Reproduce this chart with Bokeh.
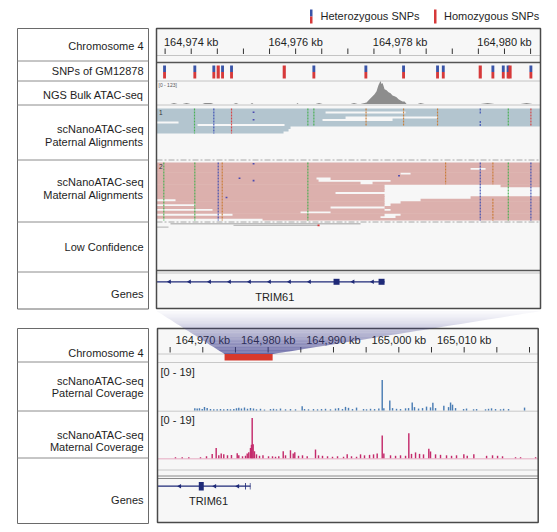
import math
from bokeh.plotting import figure
from bokeh.models import Range1d
from bokeh.core.properties import value
from bokeh.embed import file_html
from bokeh.resources import INLINE

# ---------------------------------------------------------------- data
TOP_START, TOP_END = 164973.335, 164980.690      # zoomed-in window (kb)
BOT_START, BOT_END = 164963.07, 165021.33        # zoomed-out window (kb)

top_ticks = [164973.5, 164974.0, 164974.5, 164975.0, 164975.5, 164976.0, 164976.5,
             164977.0, 164977.5, 164978.0, 164978.5, 164979.0, 164979.5, 164980.0, 164980.5]
top_label_pos = [164974.0, 164976.0, 164978.0, 164980.0]
top_labels = ["164,974 kb", "164,976 kb", "164,978 kb", "164,980 kb"]

bot_ticks = [164965, 164970, 164975, 164980, 164985, 164990, 164995, 165000,
             165005, 165010, 165015, 165020]
bot_label_pos = [164970, 164980, 164990, 165000, 165010]
bot_labels = ["164,970 kb", "164,980 kb", "164,990 kb", "165,000 kb", "165,010 kb"]

legend_labels = ["Heterozygous SNPs", "Homozygous SNPs"]

top_track_names = ["Chromosome 4", "SNPs of GM12878", "NGS Bulk ATAC-seq",
                   "scNanoATAC-seq", "Paternal Alignments",
                   "scNanoATAC-seq", "Maternal Alignments",
                   "Low Confidence", "Genes"]
bot_track_names = ["Chromosome 4", "scNanoATAC-seq", "Paternal Coverage",
                   "scNanoATAC-seq", "Maternal Coverage", "Genes"]

snp_pos = [164973.489, 164974.069, 164974.433, 164974.517, 164974.600, 164974.772,
           164975.782, 164976.349, 164977.345, 164978.067, 164978.718, 164978.828,
           164979.536, 164979.778, 164979.977, 164980.069, 164980.107, 164980.506]
snp_type = ["het", "het", "het", "hom", "het", "het",
            "hom", "het", "het", "het", "het", "het",
            "hom", "het", "het", "het", "hom", "het"]

bulk_range_label = "[0 - 123]"
bulk_pos = [164973.335, 164973.603, 164973.670, 164973.738, 164973.833, 164973.910, 164973.987,
            164974.216, 164974.260, 164974.380, 164974.427, 164974.810, 164974.858, 164974.906,
            164975.136, 164975.165, 164975.193, 164976.017, 164976.036, 164976.056,
            164976.381, 164976.448, 164976.515, 164977.052, 164977.119, 164977.186,
            164977.243, 164977.358, 164977.416, 164977.473, 164977.511, 164977.550,
            164977.569, 164977.588, 164977.607, 164977.626, 164977.645, 164977.664,
            164977.684, 164977.703, 164977.741, 164977.780, 164977.818, 164977.856,
            164977.895, 164977.933, 164977.971, 164978.010, 164978.048, 164978.086,
            164978.125, 164978.335, 164978.393, 164978.469, 164979.542, 164979.676,
            164979.810, 164980.308, 164980.423, 164980.538, 164980.690]
bulk_val = [0, 0, 5, 0, 0, 5, 0,
            0, 6, 6, 0, 0, 5, 0,
            0, 5, 0, 0, 5, 0,
            0, 6, 0, 0, 6, 0,
            0, 8, 25, 41, 52, 68,
            85, 101, 112, 123, 107, 112,
            96, 79, 74, 63, 57, 46,
            41, 36, 25, 19, 14, 14,
            0, 0, 5, 0, 0, 5,
            0, 0, 5, 0, 0]

L, R = TOP_START, TOP_END
pat_reads = [
    [(L, R)],
    [(L, 164976.573), (164978.105, R)],
    [(L, R)],
    [(L, 164976.956), (164978.718, R)],
    [(L, 164976.515), (164977.856, R)],
    [(164973.757, R)],
    [(L, 164974.121), (164975.787, R)],
    [(L, 164975.902)],
    [(L, 164975.864)],
    [(L, 164975.768)],
]
mat_reads = [
    [(L, R)],
    [(L, R)],
    [(L, 164979.351), (164979.638, R)],
    [(L, R)],
    [(L, 164978.010), (164978.201, R)],
    [(L, R)],
    [(L, 164976.400), (164976.669, R)],
    [(L, 164976.439), (164977.818, R)],
    [(L, 164977.243), (164977.473, R)],
    [(L, 164977.703), (164979.925, R)],
    [(L, 164977.703)],
    [(L, 164977.703)],
    [(L, 164976.764)],
    [(L, 164977.703)],
    [(L, 164977.703), (164979.351, R)],
    [(164973.699, 164977.703), (164978.393, R)],
    [(L, 164977.703), (164978.010, R)],
    [(164974.082, 164977.703), (164977.818, R)],
    [(L, 164976.669), (164977.703, R)],
    [(164974.408, 164977.703), (164977.818, R)],
    [(L, 164976.094), (164976.669, R)],
    [(164974.791, 164977.703), (164978.010, R)],
    [(L, 164977.626), (164977.913, R)],
    [(164975.366, R)],
]
lowconf_reads = [(164973.603, 164977.243, 0), (164974.810, 164976.439, 1), (L, 164973.565, 2)]

# mismatches: position (kb), first row, last row, base
pat_mm_pos = [164974.063, 164974.433, 164974.772, 164976.234, 164976.349, 164977.349,
              164978.067, 164978.718, 164979.536, 164979.536, 164980.073, 164980.506]
pat_mm_r0 = [0, 0, 0, 0, 0, 0, 0, 0, 0, 5, 0, 0]
pat_mm_r1 = [9, 9, 9, 6, 6, 6, 6, 6, 1, 6, 6, 6]
pat_mm_base = ["A", "C", "T", "A", "A", "G", "G", "G", "C", "C", "A", "T"]

mat_mm_pos = [164973.475, 164974.069, 164974.517, 164974.594, 164976.234, 164978.872,
              164979.536, 164979.778, 164979.778, 164980.073, 164980.506]
mat_mm_r0 = [0, 0, 0, 0, 0, 0, 0, 0, 15, 0, 0]
mat_mm_r1 = [23, 23, 23, 23, 23, 8, 23, 8, 23, 23, 23]
mat_mm_base = ["A", "A", "C", "G", "A", "G", "C", "G", "G", "A", "C"]

ins_pos = [164975.194, 164975.194, 164975.194, 164975.194, 164974.925, 164974.676, 164977.980]
ins_track = ["pat", "pat", "mat", "mat", "mat", "mat", "mat"]
ins_row = [1, 4, 0, 7, 6, 14, 5]

# genes
top_gene_span = (TOP_START, 164977.703)
top_gene_exons = [(164976.726, 164976.841), (164977.588, 164977.703)]
top_gene_chevrons = [164973.584, 164973.967, 164974.351, 164974.734, 164975.117,
                     164975.500, 164975.883, 164976.266, 164977.100, 164977.473]
top_gene_label_pos = 164975.60
bot_gene_span = (BOT_START, 164977.30)
bot_gene_exons = [(164969.39, 164970.15), (164976.47, 164976.60), (164977.20, 164977.30)]
bot_gene_chevrons = [164966.48, 164971.84, 164975.36]
bot_gene_label_pos = 164970.87
gene_name = "TRIM61"

cov_range_label = "[0 - 19]"
pat_cov_pos = [164968.78, 164969.14, 164969.49, 164969.91, 164970.26, 164970.67, 164971.18,
               164971.68, 164972.20, 164972.71, 164973.21, 164973.78, 164974.24, 164974.75,
               164975.16, 164975.51, 164975.92, 164976.38, 164976.84, 164977.30, 164977.76,
               164978.22, 164978.83, 164979.44, 164980.36, 164980.82, 164981.28, 164981.89,
               164982.66, 164983.42, 164984.19, 164985.21, 164985.57, 164986.18, 164986.94,
               164987.56, 164988.17, 164988.78, 164989.54, 164990.31, 164990.77, 164991.38,
               164991.84, 164992.30, 164992.91, 164993.53, 164994.60, 164995.06, 164995.67,
               164996.29, 164996.94, 164997.46, 164997.71, 164998.62, 164999.04, 164999.65,
               165000.26, 165001.03, 165001.49, 165002.05, 165002.40, 165003.02, 165003.63,
               165004.24, 165004.85, 165005.21, 165005.62, 165006.89, 165007.61, 165007.92,
               165008.22, 165008.68, 165009.91, 165010.36, 165011.44, 165011.90, 165013.27,
               165013.73, 165014.19, 165014.80, 165015.57, 165016.03, 165016.79, 165019.24]
pat_cov_val = [0.9, 0.8, 0.9, 0.6, 1.4, 1.0, 0.6,
               0.5, 0.5, 0.6, 0.5, 0.6, 0.5, 0.6,
               0.9, 1.1, 0.8, 1.2, 0.7, 1.0, 0.8,
               0.5, 0.7, 0.4, 0.6, 0.7, 0.5, 0.8,
               0.5, 0.6, 0.5, 1.8, 0.6, 0.5, 0.6,
               0.5, 0.6, 0.7, 0.5, 0.8, 1.0, 0.6,
               1.5, 1.1, 0.6, 1.2, 0.6, 0.5, 0.7,
               0.6, 0.8, 12.6, 0.9, 4.1, 1.0, 0.7,
               0.6, 0.9, 1.0, 3.3, 1.4, 0.8, 1.0,
               1.6, 1.3, 3.2, 1.0, 2.0, 1.4, 3.3,
               2.4, 1.0, 0.6, 0.8, 0.5, 0.6, 0.5,
               0.7, 0.9, 0.6, 0.5, 0.7, 0.6, 1.2]
mat_cov_pos = [164965.82, 164966.85, 164967.86, 164969.65, 164970.57, 164971.44, 164972.05,
               164972.45, 164972.82, 164973.21, 164973.78, 164974.39, 164975.27, 164975.51,
               164976.08, 164976.54, 164976.80, 164977.04, 164977.30, 164977.45, 164977.56,
               164977.71, 164977.91, 164978.22, 164978.68, 164979.21, 164980.06, 164980.67,
               164981.13, 164981.63, 164982.31, 164982.66, 164983.42, 164983.84, 164984.08,
               164984.65, 164985.26, 164985.98, 164987.25, 164987.71, 164988.32, 164989.09,
               164989.85, 164990.62, 164991.54, 164992.10, 164992.76, 164993.53, 164994.14,
               164994.75, 164995.52, 164996.13, 164996.69, 164997.46, 164997.71, 164998.73,
               164999.50, 165000.26, 165001.03, 165001.53, 165001.94, 165002.56, 165003.17,
               165003.78, 165004.59, 165004.85, 165005.62, 165006.38, 165007.30, 165008.07,
               165008.83, 165009.95, 165010.47, 165011.48, 165013.43, 165014.34, 165015.11,
               165015.87, 165017.86, 165018.63, 165020.93]
mat_cov_val = [0.4, 0.4, 0.4, 0.4, 0.8, 1.7, 4.2,
               1.2, 2.0, 1.6, 1.2, 1.3, 2.1, 1.2,
               0.8, 1.0, 2.0, 2.5, 4.2, 5.6, 16.7,
               5.8, 2.9, 1.6, 1.0, 1.2, 0.8, 0.8,
               0.6, 0.8, 2.9, 1.2, 3.3, 2.0, 2.5,
               1.0, 1.2, 0.8, 3.6, 1.2, 1.0, 0.8,
               0.6, 0.8, 0.6, 1.6, 0.8, 0.6, 1.6,
               1.2, 1.4, 1.6, 2.0, 9.4, 2.0, 1.2,
               1.0, 1.2, 1.0, 10.4, 1.8, 2.4, 1.8,
               1.6, 3.9, 2.8, 1.6, 1.4, 1.2, 1.0,
               1.2, 1.6, 1.0, 1.6, 1.0, 1.2, 1.0,
               0.8, 0.4, 0.4, 0.4]

# ---------------------------------------------------------------- styling / layout
FONT = value("Liberation Sans")
W, H = 549, 524
X0, Y0 = 0, 0
TXT = "#1e1e1e"
BASE_COL = {"A": "#3fae49", "C": "#3447b0", "G": "#c8782f", "T": "#d83a3a"}
HET_BLUE, SNP_RED = "#3a55a8", "#d6393a"
GENE_COL = "#1f2a78"

TX0, TX1, TY0, TY1 = 156, 540, 28, 308          # top data panel
BX0, BX1, BY0, BY1 = 157, 537.7, 328, 522        # bottom data panel

p = figure(width=W, height=H, x_range=Range1d(X0, X0 + W), y_range=Range1d(Y0 + H, Y0),
           output_backend="svg", toolbar_location=None, min_border=0,
           x_axis_location=None, y_axis_location=None)
p.grid.visible = False
p.outline_line_color = None
p.background_fill_color = "white"
p.border_fill_color = "white"


def x_kb_range(px0, px1, kb0, kb1):
    s = (kb1 - kb0) / (px1 - px0)
    return Range1d(kb0 - (px0 - X0) * s, kb1 + (X0 + W - px1) * s)


def y_val_range(base_px, top_px, vmax):
    s = vmax / (base_px - top_px)
    return Range1d((base_px - (Y0 + H)) * s, (base_px - Y0) * s)


p.extra_x_ranges = {"top": x_kb_range(TX0, TX1, TOP_START, TOP_END),
                    "bot": x_kb_range(BX0, BX1, BOT_START, BOT_END)}
p.extra_y_ranges = {"bulk": y_val_range(103.5, 80.5, 123),
                    "pcov": y_val_range(410, 364, 19),
                    "mcov": y_val_range(457.7, 412, 19)}

# ---- legend
p.quad(left=[309.5], right=[312], top=[9], bottom=[16], fill_color=HET_BLUE, line_color=None)
p.quad(left=[309.5, 433.5], right=[312, 436], top=[16, 9], bottom=[23, 23],
       fill_color=SNP_RED, line_color=None)
p.text(x=[320, 443.5], y=[15.5, 15.5], text=legend_labels, text_font=FONT,
       text_font_size="11px", text_color=TXT, text_align="left", text_baseline="middle")

# ---- left label boxes
p.quad(left=[17, 17], right=[148, 148], top=[28, 328], bottom=[308.5, 523],
       fill_color="white", line_color="#6a6a6a", line_width=1)
top_rows = [60.5, 80.5, 104.5, 159.5, 221.5, 271.5]
bot_rows = [361.5, 410.5, 457.5]
p.segment(x0=[17] * 9, x1=[148] * 9, y0=top_rows + bot_rows, y1=top_rows + bot_rows,
          line_color="#8c8c8c", line_width=1)
top_name_y = [45.7, 70.3, 94.3, 128.5, 141, 181.8, 194.3, 246.7, 293.3]
p.text(x=[143] * len(top_track_names), y=top_name_y, text=top_track_names, text_font=FONT,
       text_font_size="11px", text_color=TXT, text_align="right", text_baseline="middle")
bot_name_y = [352, 380.2, 392.8, 434.4, 446.8, 499]
p.text(x=[143] * len(bot_track_names), y=bot_name_y, text=bot_track_names, text_font=FONT,
       text_font_size="11px", text_color=TXT, text_align="right", text_baseline="middle")

# ---- data panel backgrounds
p.quad(left=[TX0, BX0], right=[TX1, BX1], top=[TY0, BY0], bottom=[TY1, BY1],
       fill_color="#f7f7f7", line_color=None)

# ---- top ruler
p.segment(x0=top_ticks, x1=top_ticks, y0=[48] * len(top_ticks), y1=[53.5] * len(top_ticks),
          x_range_name="top", line_color="#333333", line_width=1)
p.text(x=top_label_pos, y=[41.5] * 4, text=top_labels, x_range_name="top", text_font=FONT,
       text_font_size="11px", text_color=TXT, text_align="center", text_baseline="middle")
p.segment(x0=[TX0, TX0, TX0, TX0], x1=[TX1, TX1, TX1, TX1], y0=[55, 80.5, 104.5, 272.5],
          y1=[55, 80.5, 104.5, 272.5], line_color="#c4c4c4", line_width=1)
p.segment(x0=[TX0, TX0], x1=[TX1, TX1], y0=[62, 270], y1=[62, 270],
          line_color="#555555", line_width=1.5)

# ---- SNP track
het_x = [s for s, t in zip(snp_pos, snp_type) if t == "het"]
hom_x = [s for s, t in zip(snp_pos, snp_type) if t == "hom"]
p.vbar(x=het_x, top=[65] * len(het_x), bottom=[71.5] * len(het_x), width=0.055,
       x_range_name="top", fill_color=HET_BLUE, line_color=None)
p.vbar(x=het_x, top=[71.5] * len(het_x), bottom=[78] * len(het_x), width=0.055,
       x_range_name="top", fill_color=SNP_RED, line_color=None)
p.vbar(x=hom_x, top=[65] * len(hom_x), bottom=[78] * len(hom_x), width=0.06,
       x_range_name="top", fill_color=SNP_RED, line_color=None)

# ---- bulk ATAC
p.varea(x=bulk_pos, y1=[0] * len(bulk_pos), y2=bulk_val, x_range_name="top",
        y_range_name="bulk", fill_color="#8d8d8d")
p.text(x=[158], y=[84.5], text=[bulk_range_label], text_font=FONT, text_font_size="5px",
       text_color="#555555", text_align="left", text_baseline="middle")


# ---- alignments
def draw_reads(rows, y_top, row_h, color):
    lefts, rights, tops, bottoms = [], [], [], []
    last = len(rows) - 1
    for i, row in enumerate(rows):
        for s, e in row:
            lefts.append(s)
            rights.append(e)
            tops.append(y_top + i * row_h)
            bottoms.append(y_top + (i + 1) * row_h + (0.6 if i < last else 0))
    p.quad(left=lefts, right=rights, top=tops, bottom=bottoms, x_range_name="top",
           fill_color=color, line_color=None)


PAT_Y, PAT_H = 108, 2.5
MAT_Y, MAT_H = 162, 2.417
draw_reads(pat_reads, PAT_Y, PAT_H, "#b3c5cf")
draw_reads(mat_reads, MAT_Y, MAT_H, "#dcb0ad")


def draw_mm(pos, r0, r1, base, y_top, row_h):
    p.segment(x0=pos, x1=pos, y0=[y_top + a * row_h for a in r0],
              y1=[y_top + (b + 1) * row_h for b in r1], x_range_name="top",
              line_color=[BASE_COL[b] for b in base], line_width=1.2, line_dash="2 1",
              line_alpha=0.9)


draw_mm(pat_mm_pos, pat_mm_r0, pat_mm_r1, pat_mm_base, PAT_Y, PAT_H)
draw_mm(mat_mm_pos, mat_mm_r0, mat_mm_r1, mat_mm_base, MAT_Y, MAT_H)

ins_y = [(PAT_Y if t == "pat" else MAT_Y) + (r + 0.5) * (PAT_H if t == "pat" else MAT_H)
         for t, r in zip(ins_track, ins_row)]
p.rect(x=ins_pos, y=ins_y, width=0.035, height=1.6, x_range_name="top",
       fill_color="#4b4bb0", line_color=None)

p.text(x=[158.5, 158.5], y=[111.5, 165.5], text=["1", "2"], text_font=FONT,
       text_font_size="6.5px", text_color="#333333", text_align="left", text_baseline="middle")

p.segment(x0=[TX0, TX0], x1=[TX1, TX1], y0=[159.5, 221.5], y1=[159.5, 221.5],
          line_color="#a8a8a8", line_width=1, line_dash="6 2 2 2")

lc_rows_y = [223.3, 224.9, 226.6]
p.quad(left=[r[0] for r in lowconf_reads], right=[r[1] for r in lowconf_reads],
       top=[lc_rows_y[r[2]] - 0.7 for r in lowconf_reads],
       bottom=[lc_rows_y[r[2]] + 0.7 for r in lowconf_reads],
       x_range_name="top", fill_color="#bdbdbd", line_color=None)
p.rect(x=[164976.439], y=[lc_rows_y[1]], width=0.04, height=1.6, x_range_name="top",
       fill_color="#d83a3a", line_color=None)

# ---- top gene
p.segment(x0=[top_gene_span[0]], x1=[top_gene_span[1]], y0=[281.3], y1=[281.3],
          x_range_name="top", line_color=GENE_COL, line_width=1.2)
p.quad(left=[e[0] for e in top_gene_exons], right=[e[1] for e in top_gene_exons],
       top=[278.3, 278.3], bottom=[284.3, 284.3], x_range_name="top",
       fill_color=GENE_COL, line_color=None)
p.scatter(x=top_gene_chevrons, y=[281.3] * len(top_gene_chevrons), marker="triangle",
          angle=math.pi / 2, size=4.5, x_range_name="top", fill_color=GENE_COL,
          line_color=None)
p.text(x=[top_gene_label_pos], y=[296.5], text=[gene_name], x_range_name="top",
       text_font=FONT, text_font_size="11px", text_color=TXT, text_align="center",
       text_baseline="middle")

# ---- bottom ruler
p.segment(x0=bot_ticks, x1=bot_ticks, y0=[346.5] * len(bot_ticks), y1=[352] * len(bot_ticks),
          x_range_name="bot", line_color="#333333", line_width=1)
p.text(x=bot_label_pos, y=[339.3] * len(bot_label_pos), text=bot_labels, x_range_name="bot",
       text_font=FONT, text_font_size="11px", text_color=TXT, text_align="center",
       text_baseline="middle")
p.segment(x0=[BX0] * 4, x1=[BX1] * 4, y0=[353.5, 362, 410.7, 469.5],
          y1=[353.5, 362, 410.7, 469.5], line_color="#c8c8c8", line_width=1)
p.segment(x0=[BX0], x1=[BX1], y0=[458.3], y1=[458.3], line_color="#ecc3d3", line_width=1.5)
p.segment(x0=[BX0, BX0], x1=[BX1, BX1], y0=[475.5, 478], y1=[475.5, 478],
          line_color="#8a8a8a", line_width=1)

# ---- coverage
p.vbar(x=pat_cov_pos, top=pat_cov_val, bottom=0, width=0.22, x_range_name="bot",
       y_range_name="pcov", fill_color="#4a7db4", line_color=None)
p.vbar(x=mat_cov_pos, top=mat_cov_val, bottom=0, width=0.22, x_range_name="bot",
       y_range_name="mcov", fill_color="#c42a6b", line_color=None)
p.text(x=[160, 160], y=[371.7, 419.3], text=[cov_range_label, cov_range_label],
       text_font=FONT, text_font_size="11px", text_color=TXT, text_align="left",
       text_baseline="middle")

# ---- bottom gene
p.segment(x0=[bot_gene_span[0]], x1=[bot_gene_span[1]], y0=[485.7], y1=[485.7],
          x_range_name="bot", line_color=GENE_COL, line_width=1.2)
p.quad(left=[e[0] for e in bot_gene_exons], right=[e[1] for e in bot_gene_exons],
       top=[481.5, 482.5, 482.5], bottom=[490, 489, 489], x_range_name="bot",
       fill_color=GENE_COL, line_color=None)
p.scatter(x=bot_gene_chevrons, y=[485.7] * len(bot_gene_chevrons), marker="triangle",
          angle=math.pi / 2, size=4.5, x_range_name="bot", fill_color=GENE_COL,
          line_color=None)
p.text(x=[bot_gene_label_pos], y=[500], text=[gene_name], x_range_name="bot",
       text_font=FONT, text_font_size="11px", text_color=TXT, text_align="center",
       text_baseline="middle")

# ---- panel borders
p.quad(left=[TX0, BX0], right=[TX1, BX1], top=[TY0, BY0], bottom=[TY1, BY1],
       fill_color=None, line_color="#4a4a4a", line_width=1.5)

# ---- zoom connector (vertical gradient made of strips)
N = 30
yt, yb = 310.5, 353.5
xl_t, xl_b, xr_t, xr_b = 156.0, 224.0, 541.0, 272.3
cxs, cys, cal = [], [], []
for i in range(N):
    f0, f1 = i / N, (i + 1) / N
    y0, y1 = yt + (yb - yt) * f0, yt + (yb - yt) * f1
    cxs.append([xl_t + (xl_b - xl_t) * f0, xr_t + (xr_b - xr_t) * f0,
                xr_t + (xr_b - xr_t) * f1, xl_t + (xl_b - xl_t) * f1])
    cys.append([y0, y0, y1, y1])
    cal.append(0.03 + 0.72 * ((i + 0.5) / N) ** 1.3)
p.patches(cxs, cys, fill_color="#3a3a8c", fill_alpha=cal, line_color=None)

# ---- current-region marker
p.quad(left=[TOP_START], right=[TOP_END], top=[353.5], bottom=[360], x_range_name="bot",
       fill_color="#d8392c", line_color=None)

open("out.html", "w").write(file_html(p, INLINE))
